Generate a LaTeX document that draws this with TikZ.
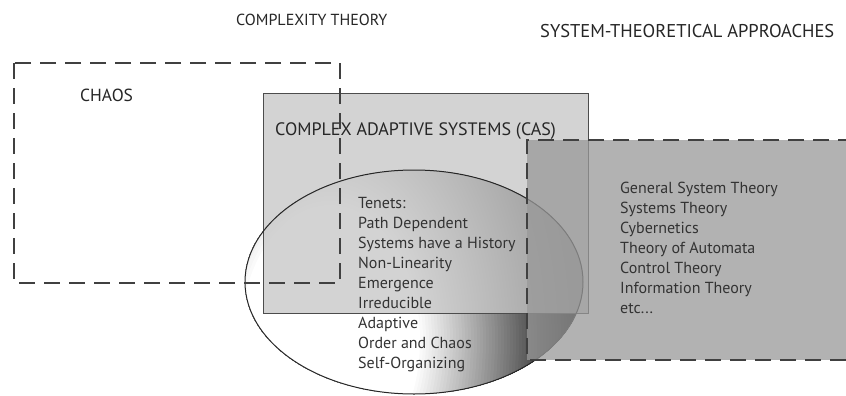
\documentclass[tikz,border=0pt]{standalone}
\usepackage{fontspec}
\setmainfont{PT Sans}
\usetikzlibrary{shapes.geometric}
\begin{document}
\begin{tikzpicture}[x=1pt,y=-1pt,
  headlbl/.style={inner sep=0pt, anchor=base west, text=black!85, font=\fontsize{17.5}{20}\selectfont},
  dbox/.style={draw=black!75, line width=1.3pt, dash pattern=on 16pt off 9pt},
  lst/.style={inner sep=0pt, anchor=base west, text=black!80, font=\fontsize{16}{20}\selectfont}]
\useasboundingbox (0,0) rectangle (846,396);
\fill[white] (0,0) rectangle (846,396);
% ellipse with shading (concentric rings)
\begin{scope}
\clip (414,282) ellipse [x radius=169, y radius=112];
\foreach \r in {270,267,...,85} {
  \pgfmathsetmacro\d{max(0,min(95,(\r-90)/160*95))}
  \fill[black!\d] (330,340) ellipse [x radius=\r, y radius=1.5*\r];
}
\end{scope}
% CAS box
\fill[black!22, fill opacity=0.78] (263,93) rectangle (588,313);
\draw[black!70, line width=1pt] (263,93) rectangle (588,313);
% ellipse outline
\draw[black!85, line width=1pt] (414,282) ellipse [x radius=169, y radius=112];
% chaos box
\draw[dbox] (14,63) rectangle (340,283);
% systems box
\fill[black!40, fill opacity=0.75] (527,140) rectangle (846,360);
\draw[dbox, line width=1.1pt] (846,360) -- (527,360) -- (527,140) -- (846,140);
% labels
\node[headlbl, font=\fontsize{16}{20}\selectfont] (ct) at (236,26) {COMPLEXITY THEORY};
\node[headlbl, font=\fontsize{18.5}{20}\selectfont] (st) at (540,38) {SYSTEM-THEORETICAL APPROACHES};
\node[headlbl] (ch) at (80,101) {CHAOS};
\node[headlbl, font=\fontsize{18}{20}\selectfont] (cas) at (275,135) {COMPLEX ADAPTIVE SYSTEMS (CAS)};
\foreach \t [count=\i] in {Tenets:,Path Dependent,Systems have a History,Non-Linearity,Emergence,Irreducible,Adaptive,Order and Chaos,Self-Organizing}
  \node[lst] (ten\i) at (358,{208+20*(\i-1)}) {\t};
\foreach \t [count=\i] in {General System Theory,Systems Theory,Cybernetics,Theory of Automata,Control Theory,Information Theory,etc.{}.{}.}
  \node[lst] (sys\i) at (620,{193+20*(\i-1)}) {\t};
\end{tikzpicture}
\end{document}
